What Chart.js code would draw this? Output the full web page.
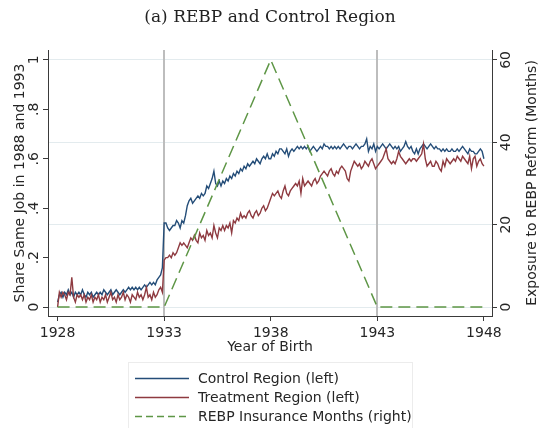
<!DOCTYPE html>
<html>
<head>
<meta charset="utf-8">
<script src="https://cdn.jsdelivr.net/npm/chart.js@4.4.1/dist/chart.umd.min.js"></script>
<style>
  html, body { margin: 0; padding: 0; background: #ffffff; }
  #c { display: block; }
</style>
</head>
<body>
<canvas id="c" width="540" height="428"></canvas>
<script>
// Share of workers in the same job in 1988 and 1993, by month of birth (Jan 1928 .. Jan 1948)
const controlShare = [
  0.02, 0.05, 0.06, 0.04, 0.06, 0.05, 0.07, 0.05, 0.06, 0.04, 0.06, 0.05,
  0.06, 0.05, 0.07, 0.05, 0.04, 0.06, 0.05, 0.06, 0.04, 0.05, 0.06, 0.05,
  0.06, 0.05, 0.07, 0.06, 0.05, 0.06, 0.07, 0.05, 0.06, 0.07, 0.06, 0.05,
  0.06, 0.07, 0.06, 0.07, 0.08, 0.07, 0.08, 0.07, 0.08, 0.07, 0.08, 0.07,
  0.08, 0.09, 0.08, 0.09, 0.10, 0.09, 0.10, 0.09, 0.11, 0.12, 0.13, 0.16,
  0.34, 0.34, 0.32, 0.31, 0.32, 0.33, 0.33, 0.35, 0.34, 0.32, 0.35, 0.34,
  0.37, 0.41, 0.43, 0.44, 0.42, 0.43, 0.44, 0.45, 0.44, 0.46, 0.45, 0.46,
  0.49, 0.48, 0.50, 0.52, 0.55, 0.50, 0.49, 0.51, 0.49, 0.51, 0.50, 0.52,
  0.51, 0.53, 0.52, 0.54, 0.53, 0.55, 0.54, 0.56, 0.55, 0.57, 0.56, 0.58,
  0.57, 0.58, 0.59, 0.58, 0.60, 0.59, 0.58, 0.60, 0.61, 0.60, 0.62, 0.60,
  0.60, 0.62, 0.61, 0.63, 0.62, 0.64, 0.64, 0.63, 0.62, 0.64, 0.61, 0.63,
  0.64, 0.63, 0.64, 0.65, 0.64, 0.65, 0.64, 0.65, 0.64, 0.65, 0.63, 0.64,
  0.65, 0.64, 0.63, 0.64, 0.65, 0.64, 0.66, 0.65, 0.65, 0.64, 0.65, 0.64,
  0.65, 0.64, 0.65, 0.64, 0.65, 0.66, 0.65, 0.64, 0.65, 0.65, 0.64, 0.65,
  0.66, 0.65, 0.64, 0.65, 0.65, 0.66, 0.68, 0.63, 0.65, 0.64, 0.66, 0.63,
  0.65, 0.64, 0.65, 0.66, 0.65, 0.64, 0.65, 0.66, 0.65, 0.64, 0.65, 0.64,
  0.65, 0.63, 0.64, 0.65, 0.67, 0.65, 0.64, 0.65, 0.63, 0.62, 0.64, 0.62,
  0.64, 0.65, 0.66, 0.65, 0.64, 0.65, 0.66, 0.65, 0.64, 0.65, 0.64, 0.64,
  0.63, 0.64, 0.63, 0.64, 0.63, 0.63, 0.64, 0.63, 0.63, 0.64, 0.63, 0.64,
  0.65, 0.64, 0.63, 0.62, 0.64, 0.63, 0.63, 0.62, 0.62, 0.63, 0.64, 0.63,
  0.60
];

const treatShare = [
  0.00, 0.06, 0.04, 0.06, 0.05, 0.03, 0.06, 0.05, 0.12, 0.04, 0.02, 0.05,
  0.04, 0.05, 0.03, 0.05, 0.02, 0.04, 0.03, 0.05, 0.02, 0.04, 0.03, 0.05,
  0.02, 0.04, 0.03, 0.05, 0.02, 0.04, 0.06, 0.03, 0.04, 0.02, 0.05, 0.03,
  0.04, 0.06, 0.03, 0.05, 0.04, 0.02, 0.05, 0.04, 0.03, 0.06, 0.04, 0.05,
  0.03, 0.05, 0.08, 0.04, 0.05, 0.03, 0.06, 0.04, 0.05, 0.07, 0.08, 0.06,
  0.19, 0.20, 0.20, 0.21, 0.20, 0.22, 0.21, 0.22, 0.24, 0.26, 0.25, 0.26,
  0.25, 0.24, 0.26, 0.28, 0.27, 0.29, 0.27, 0.26, 0.30, 0.28, 0.29, 0.27,
  0.31, 0.29, 0.30, 0.28, 0.33, 0.30, 0.28, 0.32, 0.31, 0.33, 0.31, 0.33,
  0.32, 0.34, 0.30, 0.35, 0.34, 0.36, 0.35, 0.38, 0.36, 0.37, 0.36, 0.38,
  0.39, 0.37, 0.36, 0.38, 0.39, 0.37, 0.38, 0.40, 0.41, 0.39, 0.40, 0.42,
  0.44, 0.46, 0.45, 0.46, 0.47, 0.45, 0.44, 0.47, 0.49, 0.46, 0.45, 0.47,
  0.48, 0.49, 0.50, 0.49, 0.51, 0.46, 0.52, 0.49, 0.50, 0.51, 0.50, 0.49,
  0.51, 0.52, 0.50, 0.51, 0.53, 0.54, 0.55, 0.54, 0.53, 0.55, 0.56, 0.54,
  0.53, 0.55, 0.54, 0.56, 0.57, 0.56, 0.55, 0.52, 0.51, 0.55, 0.57, 0.59,
  0.58, 0.57, 0.58, 0.56, 0.57, 0.59, 0.58, 0.57, 0.59, 0.60, 0.58, 0.56,
  0.57, 0.58, 0.59, 0.60, 0.62, 0.64, 0.60, 0.59, 0.58, 0.59, 0.58, 0.60,
  0.63, 0.61, 0.60, 0.59, 0.58, 0.59, 0.60, 0.59, 0.60, 0.60, 0.59, 0.60,
  0.61, 0.62, 0.66, 0.60, 0.57, 0.58, 0.59, 0.57, 0.57, 0.59, 0.58, 0.56,
  0.55, 0.59, 0.57, 0.60, 0.59, 0.58, 0.59, 0.60, 0.59, 0.61, 0.60, 0.59,
  0.61, 0.60, 0.59, 0.58, 0.61, 0.56, 0.60, 0.61, 0.57, 0.59, 0.60, 0.58,
  0.57
];

// REBP insurance months by year of birth (kink points of the schedule)
const rebpYears  = [1928, 1933, 1938, 1943, 1948];
const rebpMonths = [0, 0, 60, 0, 0];

// Axis ticks and reform cut-offs
const yearTicks   = [1928, 1933, 1938, 1943, 1948];
const shareTicks  = [0, 0.2, 0.4, 0.6, 0.8, 1];
const monthTicks  = [0, 20, 40, 60];
const reformLines = [1933, 1943];

const firstCohort = 1928;
const cohortX = i => firstCohort + i / 12;

const SANS = 'DejaVu Sans';
const INK = '#262626';
const AXIS = '#3a3a3a';

const fmtShare = v => (v === 0 || v === 1) ? String(v) : v.toFixed(1).replace(/^0/, '');

const decor = {
  id: 'decor',
  beforeDatasetsDraw(chart) {
    const { ctx, chartArea: a, scales: { x } } = chart;
    ctx.save();
    ctx.strokeStyle = '#bdbdbd';
    ctx.lineWidth = 2;
    reformLines.forEach(v => {
      const px = Math.round(x.getPixelForValue(v));
      ctx.beginPath();
      ctx.moveTo(px, a.top);
      ctx.lineTo(px, a.bottom);
      ctx.stroke();
    });
    ctx.restore();
  },
  afterDraw(chart) {
    const { ctx, chartArea: a, scales: { y, y2 } } = chart;
    ctx.save();
    ctx.fillStyle = INK;
    ctx.font = `14px "${SANS}"`;
    ctx.textAlign = 'center';
    ctx.textBaseline = 'alphabetic';

    // vertical tick labels, reading upward
    y.ticks.forEach(t => {
      ctx.save();
      ctx.translate(38, y.getPixelForValue(t.value));
      ctx.rotate(-Math.PI / 2);
      ctx.fillText(fmtShare(t.value), 0, 0);
      ctx.restore();
    });
    y2.ticks.forEach(t => {
      ctx.save();
      ctx.translate(510, y2.getPixelForValue(t.value));
      ctx.rotate(-Math.PI / 2);
      ctx.fillText(String(t.value), 0, 0);
      ctx.restore();
    });

    // right axis title, reading upward
    ctx.save();
    ctx.translate(536, (a.top + a.bottom) / 2);
    ctx.rotate(-Math.PI / 2);
    ctx.fillText('Exposure to REBP Reform (Months)', 0, 0);
    ctx.restore();

    // legend box
    ctx.strokeStyle = '#ececec';
    ctx.lineWidth = 1;
    ctx.strokeRect(128.5, 362.5, 284, 80);
    const rows = [378, 397, 416];
    ctx.textAlign = 'left';
    ctx.textBaseline = 'middle';
    chart.data.datasets.forEach((ds, i) => {
      const yy = rows[i] + 0.5;
      ctx.save();
      ctx.strokeStyle = ds.borderColor;
      ctx.lineWidth = ds.borderWidth;
      ctx.setLineDash(ds.borderDash && ds.borderDash.length ? [7, 4] : []);
      ctx.beginPath();
      ctx.moveTo(135, yy);
      ctx.lineTo(189, yy);
      ctx.stroke();
      ctx.restore();
      ctx.fillText(ds.label, 198, rows[i] + 1.5);
    });
    ctx.restore();
  }
};

new Chart(document.getElementById('c'), {
  type: 'line',
  data: {
    datasets: [
      {
        label: 'Control Region (left)',
        data: controlShare.map((v, i) => ({ x: cohortX(i), y: v })),
        yAxisID: 'y',
        borderColor: '#244d78',
        borderWidth: 1.4,
        pointRadius: 0,
        tension: 0,
        order: 3
      },
      {
        label: 'Treatment Region (left)',
        data: treatShare.map((v, i) => ({ x: cohortX(i), y: v })),
        yAxisID: 'y',
        borderColor: '#8e3a40',
        borderWidth: 1.4,
        pointRadius: 0,
        tension: 0,
        order: 2
      },
      {
        label: 'REBP Insurance Months (right)',
        data: rebpYears.map((yr, i) => ({ x: yr, y: rebpMonths[i] })),
        yAxisID: 'y2',
        borderColor: '#5e9646',
        borderWidth: 1.5,
        borderDash: [12, 6],
        pointRadius: 0,
        tension: 0,
        order: 1
      }
    ]
  },
  options: {
    responsive: false,
    devicePixelRatio: 1,
    animation: false,
    layout: { padding: { left: 0, right: 0, top: 0, bottom: 72 } },
    plugins: {
      legend: { display: false },
      tooltip: { enabled: false },
      title: {
        display: true,
        text: '(a) REBP and Control Region',
        color: '#222',
        font: { family: 'DejaVu Serif', size: 17, weight: 'normal', lineHeight: 1.2 },
        padding: { top: 7, bottom: 22.6 }
      }
    },
    scales: {
      x: {
        type: 'linear',
        min: 1927.55,
        max: 1948.38,
        afterBuildTicks: s => { s.ticks = yearTicks.map(v => ({ value: v })); },
        afterFit: s => { s.height = 40; },
        grid: { drawOnChartArea: false, drawTicks: true, tickLength: 5, tickColor: AXIS },
        border: { color: AXIS, width: 1 },
        ticks: {
          color: INK, padding: 4, maxRotation: 0, autoSkip: false,
          font: { family: SANS, size: 14 },
          callback: v => String(v)
        },
        title: {
          display: true, text: 'Year of Birth', color: INK,
          font: { family: SANS, size: 14 },
          padding: { top: 0, bottom: 0 }
        }
      },
      y: {
        position: 'left',
        min: -0.036,
        max: 1.04,
        afterBuildTicks: s => { s.ticks = shareTicks.map(v => ({ value: v })); },
        afterFit: s => { s.width = 48; },
        grid: { drawOnChartArea: false, drawTicks: true, tickLength: 5, tickColor: AXIS },
        border: { color: AXIS, width: 1 },
        ticks: { display: false },
        title: {
          display: true, text: 'Share Same Job in 1988 and 1993', color: INK,
          font: { family: SANS, size: 14 },
          padding: { top: 12, bottom: 0 }
        }
      },
      y2: {
        position: 'right',
        min: -2.16,
        max: 62.4,
        afterBuildTicks: s => { s.ticks = monthTicks.map(v => ({ value: v })); },
        afterFit: s => { s.width = 48; },
        grid: { drawOnChartArea: true, color: '#e3ebee', lineWidth: 1, drawTicks: true, tickLength: 5, tickColor: AXIS },
        border: { color: AXIS, width: 1 },
        ticks: { display: false }
      }
    }
  },
  plugins: [decor]
});
</script>
</body>
</html>
